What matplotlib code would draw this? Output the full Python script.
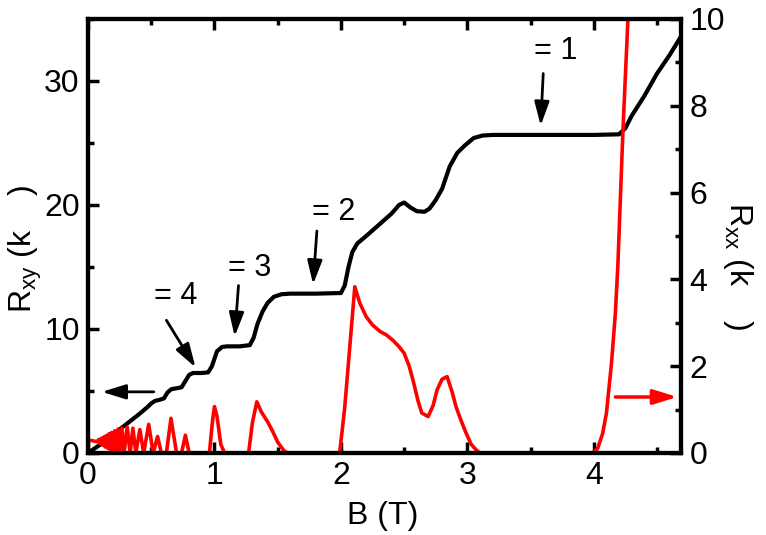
import numpy as np
import matplotlib
matplotlib.use("Agg")
from matplotlib import pyplot as plt
from matplotlib.ticker import MultipleLocator

plt.rcParams['font.family'] = ['Liberation Sans', 'DejaVu Sans']

# Hall resistance R_xy (kOhm) vs B (T), left axis
b_xy = [0, 0.1, 0.2, 0.3, 0.4, 0.47, 0.5, 0.53, 0.57, 0.6, 0.63, 0.66, 0.69, 0.74,
        0.77, 0.8, 0.83, 0.9, 0.95, 0.98, 1.02, 1.06, 1.1, 1.2, 1.28, 1.31, 1.34,
        1.38, 1.42, 1.47, 1.53, 1.6, 1.8, 2.0, 2.03, 2.06, 2.09, 2.13, 2.2, 2.3,
        2.4, 2.46, 2.5, 2.55, 2.6, 2.66, 2.7, 2.75, 2.8, 2.86, 2.92, 2.98, 3.05,
        3.12, 3.2, 3.5, 4.0, 4.2, 4.25, 4.3, 4.4, 4.5, 4.6, 4.69]
r_xy = [0, 0.7, 1.5, 2.3, 3.1, 3.7, 4.0, 4.2, 4.3, 4.4, 4.9, 5.15, 5.2, 5.3,
        5.8, 6.3, 6.45, 6.45, 6.5, 7.0, 8.2, 8.55, 8.6, 8.6, 8.7, 9.3, 10.4,
        11.4, 12.1, 12.6, 12.8, 12.85, 12.85, 12.9, 13.5, 15.0, 16.2, 16.9, 17.5, 18.4,
        19.3, 20.0, 20.2, 19.8, 19.5, 19.45, 19.7, 20.4, 21.3, 23.1, 24.2, 24.8, 25.4,
        25.6, 25.65, 25.65, 25.65, 25.7, 26.2, 27.2, 28.8, 30.6, 32.1, 33.6]

# Longitudinal resistance R_xx (kOhm) vs B (T), right axis
b_xx = [0.0, 0.04, 0.07, 0.085, 0.095, 0.105, 0.115, 0.125, 0.135, 0.145, 0.155,
        0.165, 0.175, 0.185, 0.197, 0.21, 0.223, 0.237, 0.252, 0.268, 0.285, 0.31,
        0.333, 0.355, 0.378, 0.41, 0.44, 0.48, 0.515, 0.55, 0.58, 0.62, 0.656, 0.70,
        0.74, 0.77, 0.80, 0.96, 0.985, 1.0, 1.02, 1.05, 1.08, 1.27, 1.3, 1.335,
        1.37, 1.42, 1.46, 1.5, 1.55, 1.58, 1.99, 2.03, 2.07, 2.11, 2.15, 2.2, 2.25,
        2.31, 2.36, 2.41, 2.46, 2.5, 2.54, 2.57, 2.61, 2.64, 2.69, 2.73, 2.76, 2.8,
        2.84, 2.88, 2.91, 2.95, 2.99, 3.03, 3.07, 3.1, 3.99, 4.03, 4.07, 4.1, 4.14,
        4.17, 4.19, 4.23, 4.27, 4.29]
r_xx = [0.30, 0.28, 0.26, 0.31, 0.22, 0.34, 0.18, 0.37, 0.14, 0.40, 0.11,
        0.44, 0.08, 0.47, 0.05, 0.51, 0.03, 0.55, 0.01, 0.57, 0.0, 0.60,
        0.0, 0.57, 0.0, 0.54, 0.0, 0.66, 0.0, 0.38, 0.0, 0.0, 0.80, 0.0,
        0.0, 0.41, 0.0, 0.0, 0.75, 1.07, 0.85, 0.2, 0.0, 0.0, 0.7, 1.18,
        0.95, 0.72, 0.5, 0.25, 0.05, 0.0, 0.0, 1.04, 2.44, 3.83, 3.45, 3.14, 2.95,
        2.8, 2.72, 2.6, 2.45, 2.3, 2.0, 1.68, 1.2, 0.92, 0.84, 1.1, 1.45, 1.7,
        1.76, 1.4, 1.07, 0.75, 0.46, 0.2, 0.07, 0.0, 0.0, 0.1, 0.45, 0.92, 2.07,
        3.2, 4.3, 7.4, 10.0, 11.0]

# filling factor labels: text, text position, arrow tail, arrow tip (left axis units)
nu_labels = ['= 4', '= 3', '= 2', '= 1']
nu_text = [(0.69, 12.7), (1.28, 14.9), (1.94, 19.4), (3.70, 32.4)]
nu_tail = [(0.62, 10.7), (1.19, 13.5), (1.81, 17.9), (3.60, 30.6)]
nu_tip = [(0.85, 6.9), (1.16, 9.4), (1.78, 13.6), (3.58, 26.4)]

fig = plt.figure(figsize=(7.66, 5.35), dpi=100)
ax = fig.add_axes([0.1149, 0.1533, 0.7742, 0.8112])
ax2 = ax.twinx()

ax.plot(b_xy, r_xy, '-', color='black', linewidth=3)
ax2.plot(b_xx, r_xx, '-', color='red', linewidth=2.6)

ax.set_xlim(0, 4.69)
ax.set_ylim(0, 35)
ax2.set_ylim(0, 10)

ax.xaxis.set_major_locator(MultipleLocator(1))
ax.xaxis.set_minor_locator(MultipleLocator(0.5))
ax.yaxis.set_major_locator(MultipleLocator(10))
ax.yaxis.set_minor_locator(MultipleLocator(5))
ax2.yaxis.set_major_locator(MultipleLocator(2))
ax2.yaxis.set_minor_locator(MultipleLocator(1))

ax.tick_params(which='both', direction='in', top=True, right=False, width=2.5, labelsize=23, pad=6)
ax.tick_params(which='major', length=8)
ax.tick_params(which='minor', length=4)
ax2.tick_params(which='both', direction='in', width=2.5, labelsize=23, pad=6)
ax2.tick_params(which='major', length=8)
ax2.tick_params(which='minor', length=4)

for a in (ax, ax2):
    for sp in a.spines.values():
        sp.set_linewidth(3)

ax.set_xlabel('B (T)', fontsize=23)
ax.xaxis.set_label_coords(0.497, -0.11)
ax.set_ylabel(r'R$_\mathregular{xy}$ (k    )', fontsize=23)
ax.yaxis.set_label_coords(-0.074, 0.47)
ax2.set_ylabel(r'R$_\mathregular{xx}$ (k    )', fontsize=23, rotation=270)
ax2.yaxis.set_label_coords(1.125, 0.43)

arrow = dict(arrowstyle='-|>,head_length=0.9,head_width=0.28', color='black',
             lw=2, mutation_scale=16, shrinkA=0, shrinkB=0)
for lab, tp, tail, tip in zip(nu_labels, nu_text, nu_tail, nu_tip):
    ax.text(tp[0], tp[1], lab, fontsize=22, ha='center', va='center')
    ax.annotate('', xy=tip, xytext=tail, arrowprops=arrow)

# axis indicator arrows
ax.annotate('', xy=(0.11, 4.93), xytext=(0.52, 4.93), arrowprops=arrow)
red_arrow = dict(arrow, color='red', lw=2.5)
ax2.annotate('', xy=(4.66, 1.29), xytext=(4.17, 1.29), arrowprops=red_arrow)

fig.savefig('out.png', dpi=100)
